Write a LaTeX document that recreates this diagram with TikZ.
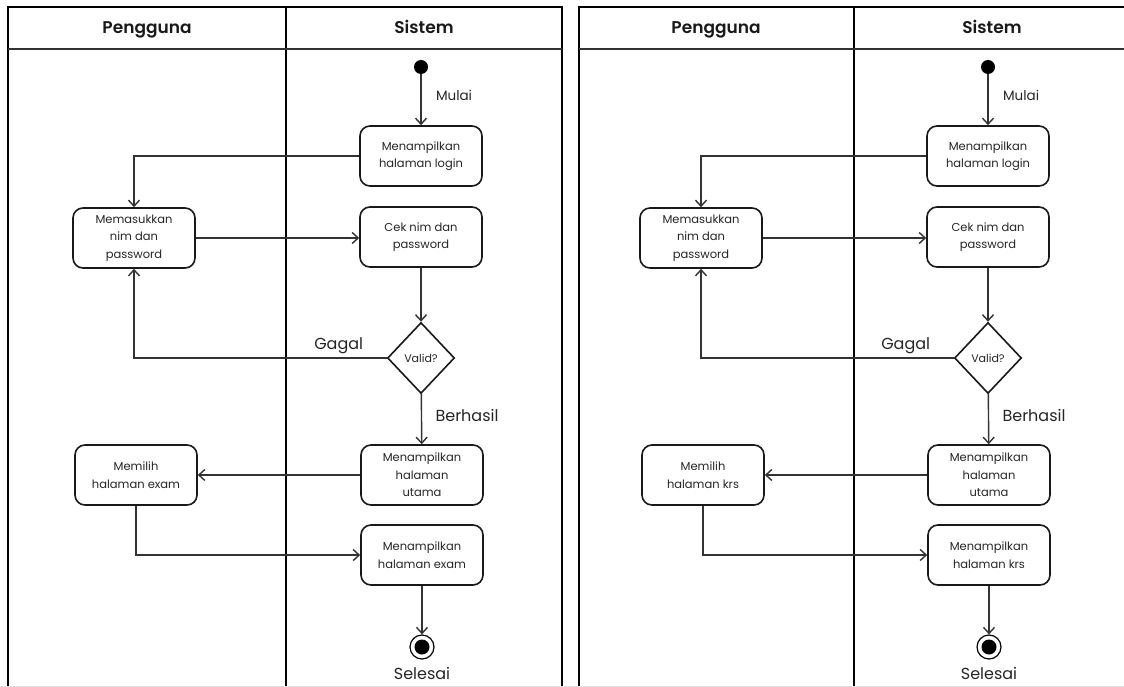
\documentclass[tikz,border=0pt]{standalone}
\usepackage{fontspec}
\setmainfont{Poppins}[BoldFont={Poppins SemiBold}]
\usetikzlibrary{arrows.meta,shapes.geometric}

\tikzset{
  lane/.style={line width=2pt, black},
  headline/.style={line width=1.5pt, black!80},
  headtext/.style={font=\fontsize{17}{20}\selectfont\bfseries, text=black!90, anchor=base},
  actbox/.style={draw=black!90, line width=1.6pt, rounded corners=10pt, fill=white,
    minimum width=122pt, minimum height=60pt, inner sep=0pt, align=center,
    font=\fontsize{11.5}{17.5}\selectfont, text=black!85},
  decision/.style={draw=black!90, line width=1.6pt, diamond, fill=white,
    minimum width=67pt, minimum height=71pt, inner sep=0pt,
    font=\fontsize{11}{13}\selectfont, text=black!85},
  startdot/.style={circle, fill=black, minimum size=14pt, inner sep=0pt},
  enddot/.style={circle, draw=black, line width=1.2pt, minimum size=24pt, inner sep=0pt,
    path picture={\fill[black] (path picture bounding box.center) circle (7.5pt);}},
  flow/.style={draw=black!80, line width=1.4pt,
    -{Straight Barb[length=6pt,width=11pt,line width=1.4pt]}},
  guard/.style={font=\fontsize{16}{19}\selectfont, text=black!85},
  small guard/.style={font=\fontsize{13.5}{16}\selectfont, text=black!85},
}

\begin{document}
\begin{tikzpicture}[x=1pt,y=-1pt]
\useasboundingbox (0,0) rectangle (1124,687);
\clip (0,0) rectangle (1124,687);
\fill[white] (0,0) rectangle (1124,687);

% swimlane frames
\draw[lane] (8,700) -- (8,7) -- (562,7) -- (562,700);
\draw[lane] (286,7) -- (286,700);
\draw[headline] (8,49) -- (562,49);
\draw[lane] (579,700) -- (579,7) -- (1130,7);
\draw[lane] (854,7) -- (854,700);
\draw[headline] (579,49) -- (1130,49);
\draw[black!12, line width=1pt] (0,686.5) -- (1124,686.5);

\node[headtext] (LhU) at (147,34) {Pengguna};
\node[headtext] (LhS) at (424,34) {Sistem};
\node[headtext] (RhU) at (716,34) {Pengguna};
\node[headtext] (RhS) at (992,34) {Sistem};

% the two activity flows, identical apart from the chosen page
\foreach \p/\dx/\w in {L/0/exam, R/567/krs}{
\begin{scope}[xshift=\dx]
  \node[startdot] (\p start) at (421,67) {};
  \node[actbox] (\p b1) at (421,156) {Menampilkan\\halaman login};
  \node[actbox] (\p b2) at (134,238) {Memasukkan\\nim dan\\password};
  \node[actbox] (\p b3) at (421,237) {Cek nim dan\\password};
  \node[decision] (\p dec) at (421,358) {Valid?};
  \node[actbox] (\p b4) at (422,475) {Menampilkan\\halaman\\utama};
  \node[actbox] (\p b5) at (136,475) {Memilih\\halaman \w};
  \node[actbox] (\p b6) at (422,555) {Menampilkan\\halaman \w};
  \node[enddot] (\p end) at (422,647) {};

  \draw[flow] (\p start) -- (\p b1)
    node[small guard, pos=0.42, right=11pt] (\p mulai) {Mulai};
  \draw[flow] (\p b1.west) -| (\p b2.north);
  \draw[flow] (\p b2.east) -- (\p b2.east -| \p b3.west);
  \draw[flow] (\p b3) -- (\p dec);
  \draw[flow] (\p dec.west) -| (\p b2.south)
    node[guard, pos=0.095, above=0pt] (\p gagal) {Gagal};
  \draw[flow] (\p dec) -- (\p b4)
    node[guard, pos=0.42, right=10pt] (\p ok) {Berhasil};
  \draw[flow] (\p b4.west) -- (\p b5.east);
  \draw[flow] (\p b5.south) |- (\p b6.west);
  \draw[flow] (\p b6) -- (\p end);
  \node[guard, below=4pt] (\p selesai) at (\p end.south) {Selesai};
\end{scope}
}
\end{tikzpicture}
\end{document}
